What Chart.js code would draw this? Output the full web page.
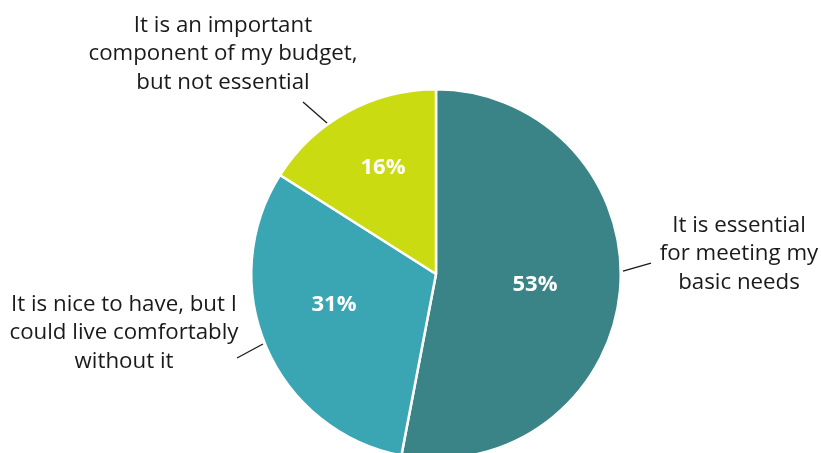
<!DOCTYPE html>
<html>
<head>
<meta charset="utf-8">
<script src="https://cdn.jsdelivr.net/npm/chart.js@4"></script>
<style>
  html, body { margin: 0; padding: 0; background: #fff; overflow: hidden; }
  .wrap { position: absolute; left: 0; top: 0; width: 821px; height: 470px; }
</style>
</head>
<body>
<div class="wrap"><canvas id="pie"></canvas></div>
<script>
const categories = [
    ['It is essential', 'for meeting my', 'basic needs'],
    ['It is nice to have, but I', 'could live comfortably', 'without it'],
    ['It is an important', 'component of my budget,', 'but not essential']
];
const shares = [53, 31, 16];

const sliceColors = ['#3a8387', '#3ba6b3', '#cbdb12'];

// where each callout sits, relative to the pie centre (px)
const callouts = [
    { text: [303, -20], line: [[187, -3], [215, -11]], pct: [99, 11] },
    { text: [-312, 59], line: [[-199, 84], [-173, 70]], pct: [-102, 31] },
    { text: [-213, -220], line: [[-133, -172], [-109, -151]], pct: [-53, -106] }
];

const calloutPlugin = {
    id: 'callouts',
    afterDatasetsDraw(chart) {
        const ctx = chart.ctx;
        const arc = chart.getDatasetMeta(0).data[0];
        const cx = arc.x, cy = arc.y;
        ctx.save();
        ctx.textAlign = 'center';
        ctx.textBaseline = 'middle';
        shares.forEach((v, i) => {
            const c = callouts[i];
            // percentage inside the slice
            ctx.fillStyle = '#ffffff';
            ctx.font = 'bold 22px "Open Sans"';
            ctx.fillText(v + '%', cx + c.pct[0], cy + c.pct[1]);

            // leader line
            ctx.strokeStyle = '#1a1a1a';
            ctx.lineWidth = 1.3;
            ctx.beginPath();
            ctx.moveTo(cx + c.line[0][0], cy + c.line[0][1]);
            ctx.lineTo(cx + c.line[1][0], cy + c.line[1][1]);
            ctx.stroke();

            // category text
            ctx.fillStyle = '#1a1a1a';
            ctx.font = '22.3px "Open Sans"';
            categories[i].forEach((line, k) => {
                ctx.fillText(line, cx + c.text[0], cy + c.text[1] + (k - 1) * 28.5);
            });
        });
        ctx.restore();
    }
};

new Chart(document.getElementById('pie'), {
    type: 'pie',
    data: {
        labels: categories.map(l => l.join(' ')),
        datasets: [{
            data: shares,
            backgroundColor: sliceColors,
            borderColor: '#ffffff',
            borderWidth: 2.5
        }]
    },
    options: {
        responsive: true,
        maintainAspectRatio: false,
        animation: false,
        layout: { padding: { left: 250, right: 199, top: 88, bottom: 10 } },
        plugins: {
            legend: { display: false },
            tooltip: { enabled: false }
        }
    },
    plugins: [calloutPlugin]
});
</script>
</body>
</html>
